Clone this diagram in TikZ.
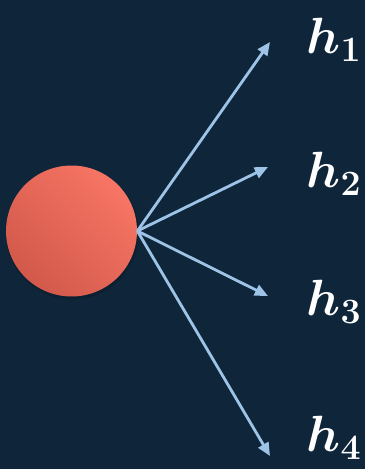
\RequirePackage{fix-cm}
\documentclass[tikz,border=0pt]{standalone}
\usepackage{xcolor}
\usepackage{amsmath}
\usepackage{bm}
\usepackage{tikz}
\usetikzlibrary{arrows.meta}
\definecolor{navybg}{HTML}{0F2539}
\definecolor{corallight}{HTML}{F77564}
\definecolor{coraldark}{HTML}{D2594B}
\definecolor{skyarrow}{HTML}{9DC3E6}

\tikzset{
  outarrow/.style={-{Triangle[length=7.5pt,width=6.5pt]}, line width=1.6pt, color=skyarrow},
  hlabel/.style={text=white, font=\fontsize{29}{32}\selectfont, inner sep=0pt}
}

\begin{document}
\begin{tikzpicture}[x=0.02cm, y=-0.02cm]

  % ══ BACKGROUND ═══════════════════════════════════════════════
  \fill[navybg] (0,0) rectangle (365,469);
  \useasboundingbox (0,0) rectangle (365,469);

  % ══ SOURCE NODE ══════════════════════════════════════════════
  \fill[black, opacity=0.12] (72.5,233) circle (66.5);
  \node[circle, minimum size=2.62cm, inner sep=0pt,
        top color=corallight, bottom color=coraldark, shading angle=-45] (src) at (71.5,231) {};

  % ══ TARGETS ══════════════════════════════════════════════════
  \coordinate (t1) at (270,42);
  \coordinate (t2) at (268,167);
  \coordinate (t3) at (268,296);
  \coordinate (t4) at (270,456);

  \node[hlabel] (h1) at (334,40)  {$\bm{h}_{\mathbf{1}}$};
  \node[hlabel] (h2) at (334,174) {$\bm{h}_{\mathbf{2}}$};
  \node[hlabel] (h3) at (334,302) {$\bm{h}_{\mathbf{3}}$};
  \node[hlabel] (h4) at (334,438) {$\bm{h}_{\mathbf{4}}$};

  % ══ ARROWS ═══════════════════════════════════════════════════
  \draw[outarrow] (src.east) -- (t1);
  \draw[outarrow] (src.east) -- (t2);
  \draw[outarrow] (src.east) -- (t3);
  \draw[outarrow] (src.east) -- (t4);

\end{tikzpicture}
\end{document}
